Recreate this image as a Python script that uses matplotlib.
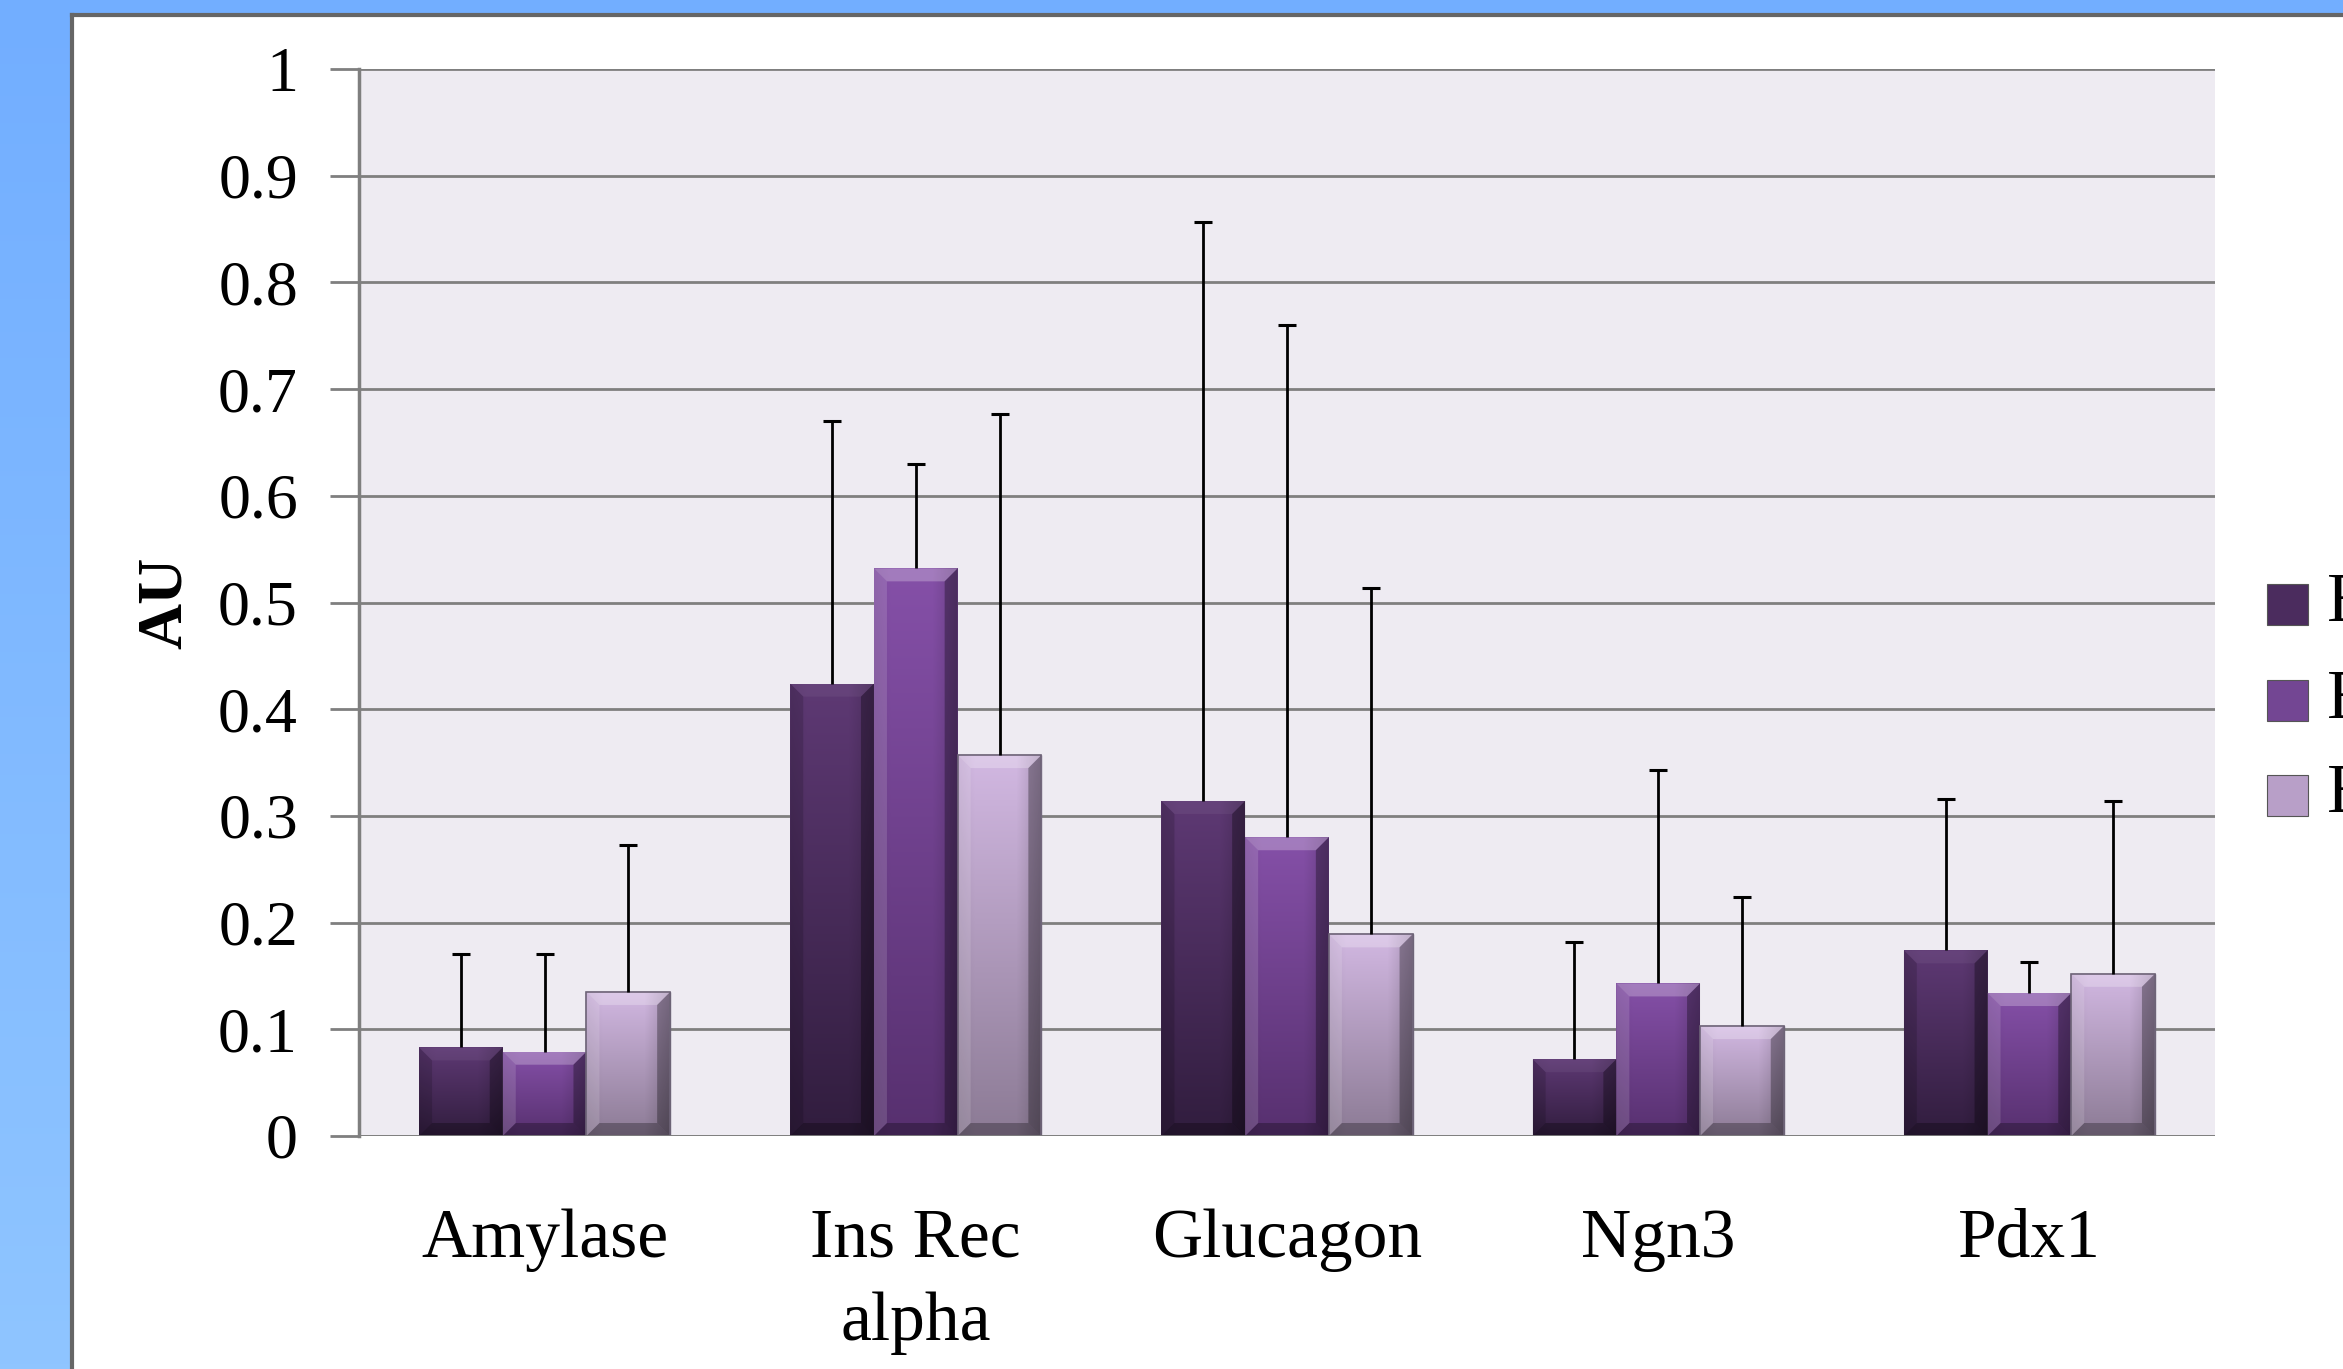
import numpy as np
import matplotlib
matplotlib.use("Agg")
import matplotlib.pyplot as plt
from matplotlib.patches import Rectangle, Polygon

# ---------------- data ----------------
categories = ["Amylase", "Ins Rec\nalpha", "Glucagon", "Ngn3", "Pdx1"]
series_names = ["E13.5", "E15.5", "E18.5"]
series1 = [0.083, 0.424, 0.314, 0.072, 0.174]
series2 = [0.079, 0.532, 0.280, 0.143, 0.134]
series3 = [0.135, 0.357, 0.189, 0.103, 0.152]
err1 = [0.088, 0.246, 0.543, 0.110, 0.142]
err2 = [0.092, 0.098, 0.480, 0.200, 0.029]
err3 = [0.138, 0.320, 0.325, 0.121, 0.162]
yticks = [0, 0.1, 0.2, 0.3, 0.4, 0.5, 0.6, 0.7, 0.8, 0.9, 1]
ytick_labels = ["0", "0.1", "0.2", "0.3", "0.4", "0.5", "0.6", "0.7", "0.8", "0.9", "1"]

values = [series1, series2, series3]
errors = [err1, err2, err3]
top_colors = ["#5E3974", "#8550A8", "#D2B8E2"]
bot_colors = ["#311D3E", "#57306F", "#8C7B95"]
face_colors = ["#4B2C5E", "#734693", "#B89FC8"]

SERIF = ["Liberation Serif", "DejaVu Serif"]

W, H = 2343, 1369
fig = plt.figure(figsize=(W / 100, H / 100), dpi=100)

# background blue gradient
bg = fig.add_axes([0, 0, 1, 1], zorder=-10)
grad = np.linspace(0, 1, 256).reshape(-1, 1)
c_top = np.array(matplotlib.colors.to_rgb("#72AEFF"))
c_bot = np.array(matplotlib.colors.to_rgb("#8FC5FF"))
img = c_top[None, None, :] * (1 - grad[:, :, None]) + c_bot[None, None, :] * grad[:, :, None]
bg.imshow(img, aspect="auto", extent=[0, 1, 0, 1], origin="upper")
bg.set_xlim(0, 1)
bg.set_ylim(0, 1)
bg.axis("off")
# white panel
px0 = 72 / W
py1 = 1 - 15 / H
bg.add_patch(Rectangle((px0, -0.01), 1.1, py1 + 0.01, facecolor="white", edgecolor="none"))
bg.plot([px0, px0], [-0.01, py1], color="#666666", lw=3, solid_capstyle="projecting")
bg.plot([px0, 1.01], [py1, py1], color="#666666", lw=3, solid_capstyle="projecting")

# main axes
ax = fig.add_axes([359 / W, 1 - 1136 / H, (2215 - 359) / W, (1136 - 69) / H])
ax.set_facecolor("#EEEBF2")
ax.set_xlim(-0.5, len(categories) - 0.5)
ax.set_ylim(0, 1)
for s in ["top", "right", "bottom"]:
    ax.spines[s].set_visible(False)
ax.spines["left"].set_color("#7F7F7F")
ax.spines["left"].set_linewidth(2.5)
ax.set_yticks(yticks)
ax.set_yticklabels(ytick_labels, fontfamily=SERIF, fontsize=46)
ax.tick_params(axis="y", length=21, width=2, color="#7F7F7F", pad=23)
ax.yaxis.grid(True, color="#7F7F7F", linewidth=2)
ax.set_axisbelow(True)
ax.set_xticks(range(len(categories)))
ax.set_xticklabels(categories, fontfamily=SERIF, fontsize=50, linespacing=1.4)
ax.tick_params(axis="x", length=0, pad=52)
ax.set_ylabel("AU", fontfamily=SERIF, fontsize=46, fontweight="bold", labelpad=17)

x = np.arange(len(categories))
bw = 0.2255
bev_px = 13
dx = bev_px / (1856 / 5)
dy = bev_px / 1067

for i in range(3):
    pos = x + (i - 1) * bw
    bars = ax.bar(pos, values[i], width=bw, color=face_colors[i],
                  edgecolor="#6E6478" if i == 2 else "none", linewidth=1.0, zorder=2)
    tops = np.array(values[i]) + np.array(errors[i])
    ax.vlines(pos, values[i], tops, colors="black", linewidth=2, zorder=5)
    ax.plot(pos, tops, linestyle="none", marker="_", markersize=13, markeredgewidth=2.2,
            color="black", zorder=5)
    ct = np.array(matplotlib.colors.to_rgb(top_colors[i]))
    cb = np.array(matplotlib.colors.to_rgb(bot_colors[i]))
    g = np.linspace(0, 1, 128).reshape(-1, 1)
    gimg = ct[None, None, :] * (1 - g[:, :, None]) + cb[None, None, :] * g[:, :, None]
    hx = np.linspace(0, 1, 64)
    hshade = 1 - 0.18 * np.clip((hx - 0.7) / 0.3, 0, 1) - 0.06 * np.clip((0.2 - hx) / 0.2, 0, 1)
    gimg = gimg * hshade[None, :, None]
    for b in bars:
        x0, w, h = b.get_x(), b.get_width(), b.get_height()
        x1 = x0 + w
        im = ax.imshow(gimg, extent=[x0, x1, 0, h], aspect="auto", origin="upper", zorder=2.1)
        im.set_clip_path(b)
        top = Polygon([(x0, h), (x1, h), (x1 - dx, h - dy), (x0 + dx, h - dy)],
                      facecolor="white", alpha=0.25 if i > 0 else 0.05, edgecolor="none", zorder=2.2)
        right = Polygon([(x1, h), (x1, 0), (x1 - dx, dy), (x1 - dx, h - dy)],
                        facecolor="black", alpha=0.3, edgecolor="none", zorder=2.2)
        bottom = Polygon([(x0, 0), (x1, 0), (x1 - dx, dy), (x0 + dx, dy)],
                         facecolor="black", alpha=0.28, edgecolor="none", zorder=2.2)
        left = Polygon([(x0, 0), (x0, h), (x0 + dx, h - dy), (x0 + dx, dy)],
                       facecolor="black" if i == 0 else "white", alpha=0.14, edgecolor="none", zorder=2.2)
        for p in (top, right, bottom, left):
            ax.add_patch(p)
        if i == 2:
            ax.add_patch(Rectangle((x0, 0), w, h, facecolor="none", edgecolor="#6E6478",
                                   linewidth=1.2, zorder=2.3))

ax.axhline(0, color="#7F7F7F", lw=2, zorder=3)

# legend (cut off by the right edge, as in the reference)
leg_y = [605, 701, 796]
for i in range(3):
    yc = 1 - leg_y[i] / H
    fig.patches.append(Rectangle((2267 / W, yc - 20 / H), 41 / W, 41 / H,
                                 transform=fig.transFigure, facecolor=face_colors[i],
                                 edgecolor="#555555", linewidth=0.8, figure=fig))
    fig.text(2327 / W, yc, series_names[i], fontfamily=SERIF, fontsize=50,
             va="center", ha="left")

fig.savefig("out.png", dpi=100)
